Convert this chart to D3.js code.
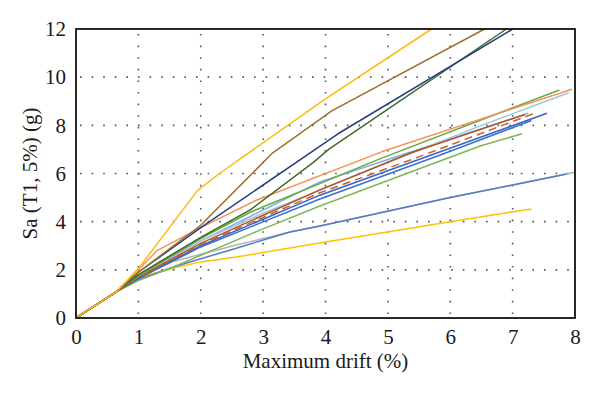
<!DOCTYPE html>
<html>
<head>
<meta charset="utf-8">
<script src="https://cdn.jsdelivr.net/npm/d3@7"></script>
<style>
  html, body { margin: 0; padding: 0; background: #fff; }
  svg { display: block; }
  text { font-family: "Liberation Serif", "DejaVu Serif", serif; }
</style>
</head>
<body>
<svg id="chart" width="600" height="394"></svg>
<script>
// ---- data ----
const xTicks = [0, 1, 2, 3, 4, 5, 6, 7, 8];
const yTicks = [0, 2, 4, 6, 8, 10, 12];
const xTitle = "Maximum drift (%)";
const yTitle = "Sa (T1, 5%) (g)";

const yellowTop   = [[0,0],[0.65,1.1],[1,2.05],[1.95,5.3],[2.3,6.0],[4,9.1],[5.7,12]];
const brownTop    = [[0,0],[0.65,1.1],[1,1.9],[2,3.85],[3.15,6.85],[4.1,8.6],[6.55,12]];
const navy        = [[0,0],[0.65,1.1],[1,1.9],[2,3.75],[4.2,7.65],[7,12]];
const darkGreen   = [[0,0],[0.65,1.1],[1,1.8],[2,3.35],[2.8,4.5],[3.8,6.45],[4.05,7.0],[4.9,8.5],[6.9,12]];
const orange      = [[0,0],[0.65,1.1],[1,2.0],[1.3,2.8],[2,3.75],[2.9,4.9],[4.9,6.9],[7.95,9.5]];
const greenTop    = [[0,0],[0.65,1.1],[1,1.75],[2,3.3],[2.8,4.4],[4.9,6.64],[7.75,9.47]];
const lightBlueA  = [[0,0],[0.65,1.1],[1,1.72],[2,3.2],[3,4.35],[4.9,6.35],[6.5,8.0],[7.9,9.35]];
const lightBlueB  = [[0,0],[0.65,1.1],[1,1.75],[2,3.2],[3.91,5.65],[4.88,6.48],[7.25,8.5]];
const brownSolid  = [[0,0],[0.65,1.1],[1,1.7],[2,3.1],[3.91,5.32],[5.36,6.85],[7.2,8.45]];
const brownDashed = [[0,0],[0.65,1.1],[1,1.7],[2,3.05],[3.91,5.2],[5.36,6.56],[7.35,8.5]];
const blueA       = [[0,0],[0.65,1.1],[1,1.65],[2,3.0],[3.91,5.1],[5.84,6.9],[7.55,8.5]];
const blueB       = [[0,0],[0.65,1.1],[1,1.65],[2,2.95],[3.91,4.94],[5.84,6.77],[7.3,8.2]];
const greenLow    = [[0,0],[0.65,1.1],[1,1.55],[1.56,2.12],[2.95,3.65],[3.91,4.65],[6.48,7.14],[7.15,7.65]];
const grey        = [[0,0],[0.65,1.1],[1,1.7],[1.56,2.35],[2.57,3.03],[3.0,3.3],[3.43,3.57],[3.91,3.82],[6,5.0],[8,6.05]];
const blueLow     = [[0,0],[0.65,1.1],[1,1.6],[1.6,2.15],[2.57,2.9],[3.43,3.57],[3.91,3.82],[6,5.0],[7.87,5.98]];
const yellowLow   = [[0,0],[0.65,1.1],[1,1.68],[1.6,2.1],[2,2.33],[2.57,2.53],[4,3.16],[6,4.0],[7.3,4.53]];

const seriesList = [
  { data: grey,        color: "#b4b4b4", dash: null },
  { data: yellowLow,   color: "#ffc000", dash: null },
  { data: blueLow,     color: "#4f7cc6", dash: null },
  { data: greenLow,    color: "#7db657", dash: null },
  { data: blueB,       color: "#3f6fc8", dash: null },
  { data: blueA,       color: "#3366cc", dash: null },
  { data: lightBlueB,  color: "#7fb0e0", dash: null },
  { data: lightBlueA,  color: "#9dc3e6", dash: null },
  { data: brownSolid,  color: "#b4501e", dash: null },
  { data: brownDashed, color: "#c9622a", dash: "8,5" },
  { data: greenTop,    color: "#6aaa44", dash: null },
  { data: orange,      color: "#f4925a", dash: null },
  { data: darkGreen,   color: "#3e6b28", dash: null },
  { data: navy,        color: "#263f80", dash: null },
  { data: brownTop,    color: "#9c7130", dash: null },
  { data: yellowTop,   color: "#ffb914", dash: null }
];

// ---- layout ----
const svg = d3.select("#chart");
const margin = { left: 76, right: 25, top: 29, bottom: 76 };
const W = 600, H = 394;
const x = d3.scaleLinear().domain([0, 8]).range([margin.left, W - margin.right]);
const y = d3.scaleLinear().domain([0, 12]).range([H - margin.bottom, margin.top]);
const fontStack = '"Liberation Serif", "DejaVu Serif", serif';

// grid
const grid = svg.append("g");
grid.selectAll("line.vx").data(xTicks.filter(d => d > 0 && d < 8)).join("line")
  .attr("x1", d => x(d)).attr("x2", d => x(d))
  .attr("y1", y(0)).attr("y2", y(12))
  .attr("stroke", "#555").attr("stroke-width", 1.6)
  .attr("stroke-dasharray", "1.6,10").attr("stroke-dashoffset", -4);
grid.selectAll("line.hy").data(yTicks.filter(d => d > 0 && d < 12)).join("line")
  .attr("x1", x(0)).attr("x2", x(8))
  .attr("y1", d => y(d)).attr("y2", d => y(d))
  .attr("stroke", "#555").attr("stroke-width", 1.6)
  .attr("stroke-dasharray", "1.6,10").attr("stroke-dashoffset", -4);

// lines
svg.append("clipPath").attr("id", "plotclip").append("rect")
  .attr("x", x(0)).attr("y", y(12) - 1).attr("width", x(8) - x(0)).attr("height", y(0) - y(12) + 1);
const line = d3.line().x(d => x(d[0])).y(d => y(d[1]));
svg.append("g").attr("clip-path", "url(#plotclip)")
  .selectAll("path").data(seriesList).join("path")
  .attr("d", d => line(d.data))
  .attr("fill", "none")
  .attr("stroke", d => d.color)
  .attr("stroke-width", 1.5)
  .attr("stroke-dasharray", d => d.dash)
  .attr("stroke-linejoin", "round");

// frame
svg.append("rect")
  .attr("x", x(0)).attr("y", y(12))
  .attr("width", x(8) - x(0)).attr("height", y(0) - y(12))
  .attr("fill", "none").attr("stroke", "#111").attr("stroke-width", 1.8);

// axes
const xAxis = svg.append("g").attr("transform", `translate(0,${y(0)})`)
  .call(d3.axisBottom(x).tickValues(xTicks).tickSize(0).tickPadding(11).tickFormat(d3.format("d")));
const yAxis = svg.append("g").attr("transform", `translate(${x(0)},0)`)
  .call(d3.axisLeft(y).tickValues(yTicks).tickSize(0).tickPadding(10).tickFormat(d3.format("d")));
[xAxis, yAxis].forEach(a => {
  a.select(".domain").remove();
  a.attr("font-family", null);
  a.selectAll("text").style("font-family", fontStack)
    .attr("font-size", 21).attr("fill", "#1a1a1a");
});

// titles
svg.append("text")
  .attr("x", (x(0) + x(8)) / 2).attr("y", 368)
  .attr("text-anchor", "middle")
  .style("font-family", fontStack)
  .attr("font-size", 21).attr("fill", "#1a1a1a")
  .text(xTitle);
svg.append("text")
  .attr("transform", `translate(37,${(y(0) + y(12)) / 2}) rotate(-90)`)
  .attr("text-anchor", "middle")
  .style("font-family", fontStack)
  .attr("font-size", 21).attr("fill", "#1a1a1a")
  .text(yTitle);
</script>
</body>
</html>
